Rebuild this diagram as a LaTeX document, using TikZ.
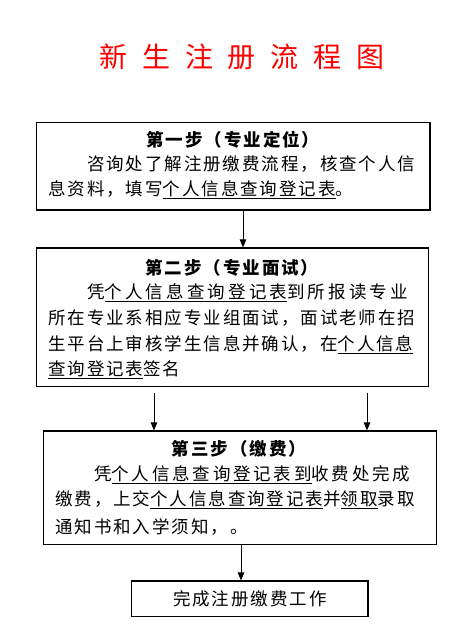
\documentclass[tikz,border=0pt]{standalone}
\usepackage{fontspec}
\setmainfont{Noto Sans CJK SC}[LetterSpace=11]
\newfontfamily\titlefont{Noto Sans CJK SC}
\usetikzlibrary{arrows.meta,calc}
\definecolor{titlered}{RGB}{255,0,0}
\begin{document}
\begin{tikzpicture}[x=1pt,y=1pt,
  box/.style={draw,line width=1.1pt,inner sep=0pt},
  txt/.style={anchor=west,inner sep=0pt,font=\fontsize{17.5}{20}\selectfont},
  head/.style={inner sep=0pt,font=\fontsize{17.5}{20}\selectfont\bfseries},
  arr/.style={line width=0.9pt,-{Triangle[width=6.5pt,length=8pt]}}]
\useasboundingbox (0,0) rectangle (475,644);
% title
\node[inner sep=0pt,text=titlered,font=\fontsize{28}{30}\titlefont] (title) at (242,587)
  {新\hspace{14.7pt}生\hspace{14.7pt}注\hspace{14.7pt}册\hspace{14.7pt}流\hspace{14.7pt}程\hspace{14.7pt}图};
% boxes
\node[box,minimum width=393.3pt,minimum height=87.7pt] (b1) at (233.35,477.85) {};
\node[box,minimum width=391.6pt,minimum height=138.7pt] (b2) at (232.5,326.65) {};
\node[box,minimum width=393.4pt,minimum height=113.3pt] (b3) at (240,156.35) {};
\node[box,minimum width=236.3pt,minimum height=35.7pt] (b4) at (249.85,45.15) {};
% box 1 text
\node[head] (h1) at (233,504) {第一步（专业定位）};
\node[txt] (l11) at (48,480) {\hspace*{38.8pt}咨询处了解注册缴费流程，核查个人信};
\node[txt] (l12) at (48,454) {息资料，填写\underline{个人信息查询登记表}。};
% box 2 text
\node[head] (h2) at (232,376) {第二步（专业面试）};
\node[txt] (l21) at (48,351) {\hspace*{38.8pt}\addfontfeature{LetterSpace=18}凭\underline{个人信息查询登记表}到所报读专业};
\node[txt] (l22) at (48,326) {所在专业系相应专业组面试，面试老师在招};
\node[txt] (l23) at (48,299) {生平台上审核学生信息并确认，在\underline{个人信息}};
\node[txt] (l24) at (48,274) {\underline{查询登记表}签名};
% box 3 text
\node[head] (h3) at (239,195) {第三步（缴费）};
\node[txt] (l31) at (55,169) {\hspace*{38.8pt}\addfontfeature{LetterSpace=16}凭\underline{个人信息查询登记表到}收费处完成};
\node[txt] (l32) at (55,144) {缴费，上交\underline{个人信息查询登记表}并\underline{领取}录取};
\node[txt] (l33) at (55,117) {通知书和入学须知，。};
% box 4 text
\node[inner sep=0pt,font=\fontsize{17.5}{20}\selectfont] (l41) at (249.85,45) {完成注册缴费工作};
% arrows
\draw[arr] (243,0 |- b1.south) -- (243,0 |- b2.north);
\draw[arr] ($(154,0 |- b2.south)+(0,-6)$) -- (154,0 |- b3.north);
\draw[arr] ($(367,0 |- b2.south)+(0,-6)$) -- (367,0 |- b3.north);
\draw[arr] (241,0 |- b3.south) -- (241,0 |- b4.north);
\end{tikzpicture}
\end{document}
